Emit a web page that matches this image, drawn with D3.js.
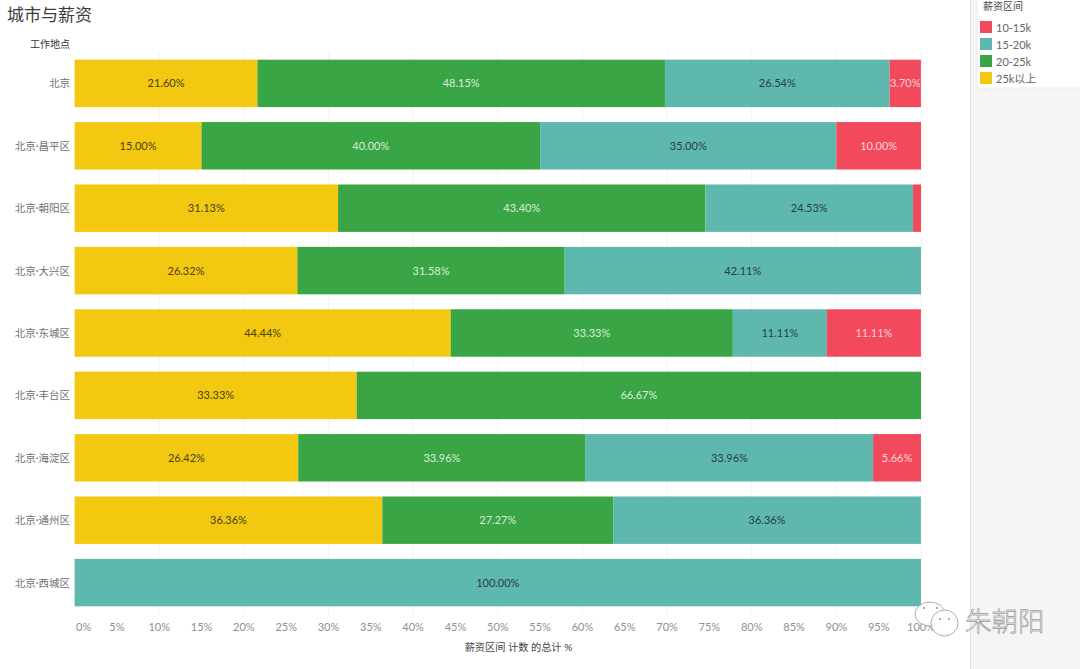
<!DOCTYPE html>
<html><head><meta charset="utf-8">
<script src="https://cdn.jsdelivr.net/npm/d3@7/dist/d3.min.js"></script>
<style>html,body{margin:0;padding:0;background:#fff}svg{display:block}text{font-family:Lato,"Noto Sans CJK SC",sans-serif}</style>
</head><body><svg id="c" width="1080" height="669"></svg>
<script>
const cities=["北京","北京·昌平区","北京·朝阳区","北京·大兴区","北京·东城区","北京·丰台区","北京·海淀区","北京·通州区","北京·西城区"];
const bands=["25k以上","20-25k","15-20k","10-15k"];
const legendOrder=["10-15k","15-20k","20-25k","25k以上"];
const colors=["#f2c811","#3aa545","#5fb8ae","#f2495c"];
const v25=[21.60,15.00,31.13,26.32,44.44,33.33,26.42,36.36,0];
const v20=[48.15,40.00,43.40,31.58,33.33,66.67,33.96,27.27,0];
const v15=[26.54,35.00,24.53,42.11,11.11,0,33.96,36.36,100.00];
const v10=[3.70,10.00,0.94,0,11.11,0,5.66,0,0];
const hiddenLabelBelow=1;
const ticks=d3.range(0,101,5);
const series=[v25,v20,v15,v10];
const textFill=["#4a4018","#d9eeda","#25403d","#fbd5d9"];

const svg=d3.select("#c");
const x=d3.scaleLinear().domain([0,100]).range([74.6,921]);
const y=d3.scaleBand().domain(cities).range([52.2,613.8]).paddingInner(0.24).paddingOuter(0.12);
const color=d3.scaleOrdinal().domain(bands).range(colors);

svg.append("rect").attr("x",970).attr("y",0).attr("width",110).attr("height",669).attr("fill","#f5f5f5");
svg.append("line").attr("x1",970.5).attr("x2",970.5).attr("y1",0).attr("y2",669).attr("stroke","#e2e2e2");

svg.append("g").selectAll("line").data(ticks.filter(t=>t>0&&t%10===0)).join("line")
 .attr("x1",d=>x(d)).attr("x2",d=>x(d)).attr("y1",52).attr("y2",614).attr("stroke","#f3f3f3");

svg.append("text").attr("x",7).attr("y",21).attr("font-size",17).attr("fill","#3c3c3c").text("城市与薪资");
svg.append("text").attr("x",70).attr("y",48).attr("text-anchor","end").attr("font-size",10).attr("fill","#333").text("工作地点");

svg.append("g").selectAll("text").data(cities).join("text")
 .attr("x",70).attr("y",d=>y(d)+y.bandwidth()/2+4).attr("text-anchor","end")
 .attr("font-size",10.5).attr("fill","#6f6f6f").text(d=>d);

cities.forEach((c,i)=>{
  let acc=0;
  series.forEach((s,j)=>{
    const val=s[i];
    if(val<=0) return;
    const a=acc; acc+=val;
    const end=Math.min(acc,100);
    svg.append("rect").attr("x",x(a)).attr("y",y(c)).attr("width",x(end)-x(a)).attr("height",y.bandwidth()).attr("fill",color(bands[j]));
    if(val>=hiddenLabelBelow){
      svg.append("text").attr("x",(x(a)+x(end))/2).attr("y",y(c)+y.bandwidth()/2+4)
       .attr("text-anchor","middle").attr("font-size",11).attr("fill",textFill[j]).text(val.toFixed(2)+"%");
    }
  });
});

svg.append("g").selectAll("text").data(ticks).join("text")
 .attr("x",d=>d===0?x(0)+1.4:x(d)).attr("y",631).attr("text-anchor",d=>d===0?"start":"middle")
 .attr("font-size",11).attr("fill","#8f8f8f").text(d=>d+"%");
svg.append("text").attr("x",518.5).attr("y",651).attr("text-anchor","middle").attr("font-size",10.2).attr("fill","#444").text("薪资区间 计数 的总计 %");

const lg=svg.append("g");
lg.append("rect").attr("x",977).attr("y",-1).attr("width",104).attr("height",89).attr("fill","#fff").attr("stroke","#ececec");
lg.append("text").attr("x",983).attr("y",10).attr("font-size",10).attr("fill","#444").text("薪资区间");
legendOrder.forEach((b,i)=>{
  const yy=21+i*17;
  lg.append("rect").attr("x",980).attr("y",yy).attr("width",12).attr("height",12).attr("fill",color(b));
  lg.append("text").attr("x",996).attr("y",yy+11).attr("font-size",11).attr("fill","#666").text(b);
});

const wm=svg.append("g").attr("fill","#fff").attr("fill-opacity",0.85).attr("stroke","#999").attr("stroke-width",0.8);
wm.append("ellipse").attr("cx",930).attr("cy",614).attr("rx",15).attr("ry",12);
wm.append("ellipse").attr("cx",944.5).attr("cy",623).attr("rx",13.5).attr("ry",13);
wm.selectAll("circle").data([[924,608],[937,608],[940,619],[949,619]]).join("circle")
 .attr("cx",d=>d[0]).attr("cy",d=>d[1]).attr("r",1.1).attr("fill","#999").attr("fill-opacity",1).attr("stroke","none");
svg.append("text").attr("x",965).attr("y",631).attr("font-size",26.5).attr("font-weight",300).attr("fill","#f7f7f7")
 .attr("stroke","#6e6e6e").attr("stroke-width",0.45).text("朱朝阳");
</script></body></html>
